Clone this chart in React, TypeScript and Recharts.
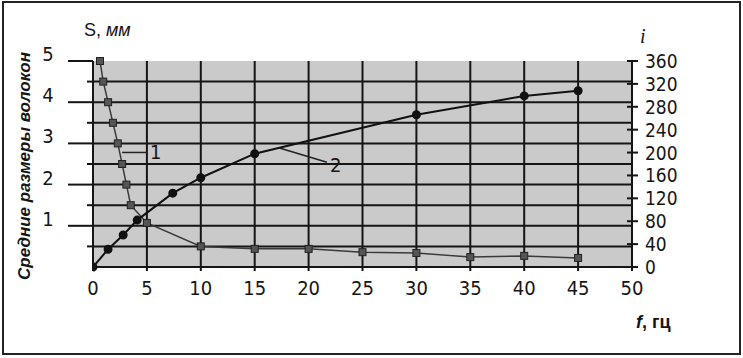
import { LineChart, Line, XAxis, YAxis, CartesianGrid, ReferenceLine } from "recharts";

// curve 1: mean fibre size S, mm (left axis)
const freqS = [0.65, 0.95, 1.4, 1.85, 2.3, 2.7, 3.1, 3.5, 5, 10, 15, 20, 25, 30, 35, 40, 45];
const sizeS = [5.0, 4.5, 4.0, 3.5, 3.0, 2.5, 2.0, 1.5, 1.07, 0.5, 0.44, 0.44, 0.36, 0.34, 0.24, 0.27, 0.22];

// curve 2: i (right axis)
const freqI = [0, 1.4, 2.8, 4.1, 7.4, 10, 15, 30, 40, 45];
const valI = [0, 31, 56, 82, 129, 156, 198, 266, 299, 308];

const xTicks = [0, 5, 10, 15, 20, 25, 30, 35, 40, 45, 50];
const leftTicks = [0, 0.5, 1, 1.5, 2, 2.5, 3, 3.5, 4, 4.5, 5];
const gridS = [0, 0.5, 1, 1.5, 2, 2.5, 3, 3.5, 4, 4.5];
const rightTicks = [0, 40, 80, 120, 160, 200, 240, 280, 320, 360];

const dataS = freqS.map((f, k) => ({ f, s: sizeS[k] }));
const dataI = freqI.map((f, k) => ({ f, i: valI[k] }));

const FONT = "'Liberation Sans Narrow', 'DejaVu Sans Condensed', Arial, sans-serif";
const INK = "#151515";

const SquareDot = (p: any) => (
  <rect key={p.index} x={p.cx - 3.5} y={p.cy - 3.5} width={7} height={7} fill="#555" stroke="#222" strokeWidth={1} />
);

const LeftTick = (p: any) => {
  const v = p.payload.value;
  const whole = Number.isInteger(v);
  if (v === 0) return <g />;
  return (
    <g>
      <line x1={p.x - (whole ? 25 : 6)} x2={p.x} y1={p.y} y2={p.y} stroke={INK} strokeWidth={2} />
      {whole && (
        <text x={p.x - 45} y={p.y - 7} textAnchor="middle" dominantBaseline="central" fontSize={20} fontFamily={FONT} fill={INK}>
          {v}
        </text>
      )}
    </g>
  );
};

const RightTick = (p: any) => (
  <g>
    <line x1={p.x - 5} x2={p.x + 6} y1={p.y} y2={p.y} stroke={INK} strokeWidth={2} />
    <text x={p.x + 13} y={p.y} textAnchor="start" dominantBaseline="central" fontSize={19} fontFamily={FONT} fill={INK}>
      {p.payload.value}
    </text>
  </g>
);

export default function App() {
  return (
    <div style={{ position: "absolute", left: 0, top: 0, width: 743, height: 358, background: "#fff" }}>
      <div style={{ position: "absolute", left: 2, top: 1, width: 735, height: 350, border: "2px solid #222" }} />
      <LineChart width={743} height={358} margin={{ top: 61, right: 51, bottom: 61, left: 33 }}>
        <CartesianGrid yAxisId="left" fill="#cacaca" stroke={INK} strokeWidth={2} horizontalValues={gridS} verticalValues={xTicks} />
        <XAxis
          type="number"
          dataKey="f"
          domain={[0, 50]}
          ticks={xTicks}
          height={30}
          allowDataOverflow
          axisLine={{ stroke: INK, strokeWidth: 2 }}
          tickLine={{ stroke: INK, strokeWidth: 2 }}
          tickSize={4}
          tickMargin={10}
          tick={{ fontSize: 20, fontFamily: FONT, fill: INK }}
        />
        <YAxis
          yAxisId="left"
          type="number"
          domain={[0, 5]}
          ticks={leftTicks}
          width={60}
          interval={0}
          axisLine={{ stroke: INK, strokeWidth: 2 }}
          tickLine={false}
          tickSize={0}
          tickMargin={0}
          tick={<LeftTick />}
        />
        <YAxis
          yAxisId="right"
          orientation="right"
          type="number"
          domain={[0, 360]}
          ticks={rightTicks}
          width={60}
          interval={0}
          axisLine={{ stroke: INK, strokeWidth: 2 }}
          tickLine={false}
          tickSize={0}
          tickMargin={0}
          tick={<RightTick />}
        />
        <ReferenceLine yAxisId="left" segment={[{ x: 2.7, y: 2.78 }, { x: 5, y: 2.78 }]} stroke="#222" strokeWidth={1.5} ifOverflow="visible" />
        <ReferenceLine yAxisId="right" segment={[{ x: 17.3, y: 208 }, { x: 21.7, y: 183 }]} stroke="#222" strokeWidth={1.5} ifOverflow="visible" />
        <Line
          yAxisId="left"
          data={dataS}
          dataKey="s"
          type="linear"
          stroke="#3a3a3a"
          strokeWidth={1.5}
          dot={SquareDot}
          isAnimationActive={false}
        />
        <Line
          yAxisId="right"
          data={dataI}
          dataKey="i"
          type="linear"
          stroke="#111"
          strokeWidth={2}
          dot={{ r: 3.5, fill: "#111", stroke: "#111" }}
          isAnimationActive={false}
        />
      </LineChart>
      <div style={{ position: "absolute", left: 84, top: 20, fontFamily: "Arial, sans-serif", fontSize: 18, color: INK, whiteSpace: "nowrap" }}>
        S, <i>мм</i>
      </div>
      <div style={{ position: "absolute", left: 640, top: 25, fontFamily: "'Liberation Serif', serif", fontStyle: "italic", fontSize: 20, color: INK }}>
        i
      </div>
      <div style={{ position: "absolute", left: 636, top: 312, fontFamily: "Arial, sans-serif", fontWeight: "bold", fontSize: 18, color: INK, whiteSpace: "nowrap" }}>
        <i>f</i>, гц
      </div>
      <div style={{ position: "absolute", left: 150, top: 140, fontFamily: FONT, fontSize: 20, color: INK }}>1</div>
      <div style={{ position: "absolute", left: 330, top: 153, fontFamily: FONT, fontSize: 20, color: INK }}>2</div>
      <div
        style={{
          position: "absolute",
          left: 25,
          top: 166,
          transform: "translate(-50%, -50%) rotate(-90deg)",
          fontFamily: "Arial, sans-serif",
          fontWeight: "bold",
          fontStyle: "italic",
          fontSize: 17,
          color: INK,
          whiteSpace: "nowrap",
        }}
      >
        Средние размеры волокон
      </div>
    </div>
  );
}
